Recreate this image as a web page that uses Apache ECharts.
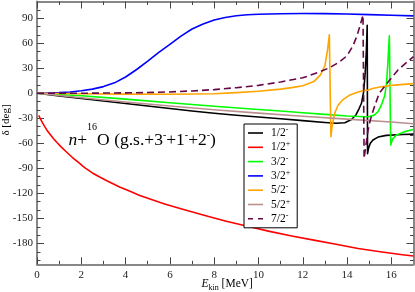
<!DOCTYPE html>
<html><head><meta charset="utf-8">
<script src="https://cdn.jsdelivr.net/npm/echarts@6/dist/echarts.min.js"></script>
<style>html,body{margin:0;padding:0;background:#fff}#c{width:415px;height:292px}</style>
</head><body><div id="c"></div>
<script>
// ---- tick values ----
const xMajorTicks = [0, 2, 4, 6, 8, 10, 12, 14, 16];
const xMinorTicks = [1, 3, 5, 7, 9, 11, 13, 15];
const yMajorTicks = [-180, -150, -120, -90, -60, -30, 0, 30, 60, 90];
const yMinorTicks = [-200, -190, -170, -160, -140, -130, -110, -100, -80, -70, -50, -40, -20, -10, 10, 20, 40, 50, 70, 80, 100];

// ---- series labels ----
const spins = ['1/2', '1/2', '3/2', '3/2', '5/2', '5/2', '7/2'];
const parities = ['-', '+', '-', '+', '-', '+', '-'];

// ---- data: E_kin [MeV] and phase shift delta [deg] ----
const e12m = [0, 1, 2, 3, 4, 5, 6, 7, 8, 9, 10, 11, 12, 13, 13.5, 13.9, 14.2, 14.4, 14.55, 14.65, 14.75, 14.82, 14.87, 14.91, 14.925, 14.97, 15.05, 15.17, 15.4, 15.77, 16.5, 17];
const d12m = [0, -3.1, -6.2, -9.3, -12.3, -15.3, -18.3, -21.2, -24, -26.4, -28.5, -30.5, -32.8, -35, -36, -35.3, -31.5, -26, -18, -12, 2, 25, 50, 81.6, -72.4, -66, -60, -56, -52.5, -50.5, -49.5, -49];

const e12p = [0.08, 0.15, 0.25, 0.35, 0.45, 0.57, 0.75, 0.9, 1.1, 1.33, 1.6, 1.9, 2.08, 2.2, 2.5, 2.83, 3.2, 3.73, 4.2, 4.64, 5.2, 5.8, 6.5, 7.5, 8.5, 9.5, 10.5, 11.5, 12.5, 13.5, 14.5, 15.5, 16.5, 17];
const d12p = [-26.4, -30.5, -35.5, -40, -44.2, -48.4, -54.5, -59, -64.5, -70.4, -77, -83.5, -87.5, -90, -95.5, -100.4, -105.5, -112.4, -117.5, -122.4, -127.5, -133, -138.5, -146, -153, -159.5, -165.5, -171, -176, -181, -186, -190, -193.5, -195];

const e32m = [0, 2, 4, 6, 8, 10, 11, 12, 13, 14, 14.8, 15.0, 15.2, 15.3, 15.4, 15.55, 15.7, 15.78, 15.84, 15.88, 15.91, 15.97, 16.05, 16.23, 16.6, 17];
const d32m = [0, -3, -7, -11.3, -15.5, -19.5, -21.3, -23.3, -25.3, -27.2, -28.2, -28, -26.5, -24.5, -22, -14, -3, 12, 35, 55, 69, -62, -55, -50, -46, -43.5];

const e32p = [0, 0.5, 1, 1.5, 2, 2.5, 3, 3.5, 4, 4.5, 5, 5.5, 6, 6.5, 7, 7.5, 8, 8.5, 9, 9.5, 10, 11, 12, 13, 14, 15, 16, 17];
const d32p = [0, 0.3, 0.8, 1.6, 3, 5, 8, 12.5, 19.5, 28.5, 38.5, 49, 58.5, 68.5, 77, 83, 87.8, 90.8, 93, 94.2, 94.8, 95.4, 95.6, 95.5, 95, 94.3, 93.5, 92.8];

const e52m = [0, 2, 4, 6, 8, 9, 10, 11, 11.5, 12, 12.5, 12.8, 13.0, 13.12, 13.2, 13.27, 13.32, 13.44, 13.6, 13.8, 14.1, 14.5, 14.8, 14.86, 14.92, 15.2, 15.5, 16, 17];
const d52m = [0, -0.5, -1, -1.2, -0.6, 0.8, 2.5, 5, 6.8, 9, 14, 22, 33, 52, 70, -52, -40, -24, -14, -8, -2.5, 1.5, 3.6, 2.2, 3.6, 6, 7.6, 9.5, 11.6];

const e52p = [0, 2, 4, 6, 8, 10, 12, 14, 16, 17];
const d52p = [0, -5.3, -10.5, -15.3, -19.8, -23.8, -27.5, -31, -34.5, -36.5];

const e72m = [0, 2, 4, 5, 6, 7, 8, 9, 10, 11, 12, 12.76, 13.2, 13.66, 14.0, 14.27, 14.45, 14.57, 14.66, 14.72, 14.77, 14.82, 14.95, 15.05, 15.2, 15.45, 15.9, 16.3, 16.6, 17];
const d72m = [0, 0, 0.5, 0.9, 1.6, 2.8, 4.4, 6.7, 9.5, 13.6, 18.5, 25.6, 30.5, 37.6, 45, 57, 69, 79.6, 88, 93.6, -78, -68, -44, -32, -19, 0, 15, 28, 35, 44];

const energies = [e12m, e12p, e32m, e32p, e52m, e52p, e72m];
const deltas = [d12m, d12p, d32m, d32p, d52m, d52p, d72m];

// ---- styles ----
const colors = ['#000000', '#ff0000', '#00ff00', '#0000ff', '#ffa500', '#bc8f8f', '#670748'];
const lineTypes = ['solid', 'solid', 'solid', 'solid', 'solid', 'solid', [7, 4]];
const solidIcon = 'path://M0,0H15V1.6H0Z';
const dashIcon = 'path://M0,0H5V1.6H0Z M10,0H15V1.6H10Z';
const serifName = '"Liberation Serif", "Times New Roman", serif';
const frameColor = '#888';
const tickColor = '#444';

function zip(xs, ys) { return xs.map((x, i) => [x, ys[i]]); }
function f(size, style) { return (style ? style + ' ' : '') + size + 'px ' + serifName; }

const grid = { left: 37, right: 1.5, top: 1.5, bottom: 27.7, containLabel: false };

function xAx(pos, ticks, len, showLine, showLabel) {
  return {
    type: 'value', position: pos, min: 0, max: 17,
    axisLine: { show: showLine, onZero: false, lineStyle: { color: frameColor, width: 2 } },
    axisTick: { show: true, inside: true, length: len, customValues: ticks, lineStyle: { color: tickColor, width: 1 } },
    axisLabel: { show: showLabel, customValues: ticks, margin: 5, fontFamily: serifName, fontSize: 11, color: '#222' },
    splitLine: { show: false }
  };
}
function yAx(pos, ticks, len, showLine, showLabel) {
  return {
    type: 'value', position: pos, min: -205, max: 110,
    axisLine: { show: showLine, onZero: false, lineStyle: { color: frameColor, width: 2 } },
    axisTick: { show: true, inside: true, length: len, customValues: ticks, lineStyle: { color: tickColor, width: 1 } },
    axisLabel: { show: showLabel, customValues: ticks, margin: 4, fontFamily: serifName, fontSize: 11, color: '#222' },
    splitLine: { show: false }
  };
}

const series = spins.map((s, i) => ({
  name: s + parities[i],
  type: 'line',
  xAxisIndex: 0, yAxisIndex: 0,
  data: zip(energies[i], deltas[i]),
  symbol: 'none',
  smooth: false,
  lineStyle: { color: colors[i], width: 1.6, type: lineTypes[i], join: 'round' },
  itemStyle: { color: colors[i] },
  z: 2 + i
}));

const option = {
  animation: false,
  backgroundColor: '#fff',
  grid: grid,
  xAxis: [
    xAx('bottom', xMajorTicks, 7, true, true),
    xAx('bottom', xMinorTicks, 3.5, false, false),
    xAx('top', xMajorTicks, 7, true, false),
    xAx('top', xMinorTicks, 3.5, false, false)
  ],
  yAxis: [
    yAx('left', yMajorTicks, 7, true, true),
    yAx('left', yMinorTicks, 3.5, false, false),
    yAx('right', yMajorTicks, 7, true, false),
    yAx('right', yMinorTicks, 3.5, false, false)
  ],
  legend: {
    orient: 'vertical',
    left: 244, top: 124,
    padding: [2, 7, 3, 4],
    itemGap: 1.3,
    itemWidth: 15, itemHeight: 12,
    symbolKeepAspect: true,
    borderColor: '#000', borderWidth: 1,
    backgroundColor: '#fff',
    z: 20,
    data: series.map((s, i) => ({ name: s.name, icon: lineTypes[i] === 'solid' ? solidIcon : dashIcon })),
    formatter: n => '{a|' + n.slice(0, -1) + '}{s|' + n.slice(-1) + '}',
    textStyle: {
      fontFamily: serifName, fontSize: 11.5, color: '#000', lineHeight: 12, padding: [0, 0, 0, 3],
      rich: {
        a: { fontFamily: serifName, fontSize: 11.5, color: '#000' },
        s: { fontFamily: serifName, fontSize: 8, color: '#000', verticalAlign: 'top', height: 6 }
      }
    }
  },
  graphic: [
    {
      type: 'text', z: 30,
      style: {
        x: 68.5, y: 140.6,
        text: '{i|n}{r|+}{p|16}{r|O (g.s.+3}{m|-}{r|+1}{m|-}{r|+2}{m|-}{r|)}',
        textAlign: 'left', align: 'left', textVerticalAlign: 'middle', verticalAlign: 'middle',
        lineHeight: 40,
        font: f(17.5),
        fill: '#000',
        rich: {
          i: { font: f(17.5, 'italic'), fill: '#000' },
          r: { font: f(17.5), fill: '#000' },
          p: { font: f(10), fill: '#000', verticalAlign: 'top', height: 14 },
          m: { font: f(10), fill: '#000', verticalAlign: 'top', height: 29 }
        }
      }
    },
    {
      type: 'text', z: 30,
      style: {
        x: 201.5, y: 283.5,
        text: '{e|E}{k|kin}{r| [MeV]}',
        textAlign: 'left', align: 'left', textVerticalAlign: 'middle', verticalAlign: 'middle',
        lineHeight: 20,
        font: f(11.5),
        fill: '#000',
        rich: {
          e: { font: f(11.5, 'italic'), fill: '#000' },
          k: { font: f(8), fill: '#000', verticalAlign: 'bottom', height: 12 },
          r: { font: f(11.5), fill: '#000' }
        }
      }
    },
    {
      type: 'text', z: 30,
      x: 6, y: 120, rotation: Math.PI / 2,
      style: {
        x: 0, y: 0,
        text: 'δ [deg]',
        textAlign: 'center', align: 'center', textVerticalAlign: 'middle', verticalAlign: 'middle',
        font: f(11),
        fill: '#000'
      }
    }
  ],
  series: series
};

const chart = echarts.init(document.getElementById('c'), null, { renderer: 'canvas' });
chart.setOption(option);
</script>
</body></html>
